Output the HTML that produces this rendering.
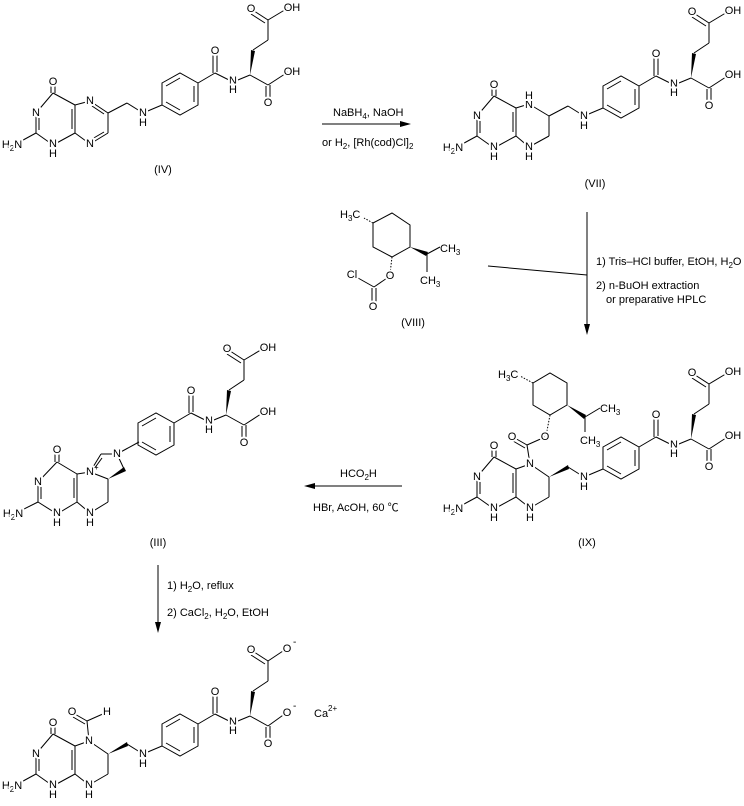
<!DOCTYPE html>
<html><head><meta charset="utf-8">
<style>
html,body{margin:0;padding:0;background:#fff;}
svg{display:block;}
text{font-family:"Liberation Sans","Noto Sans CJK SC",sans-serif;font-size:11px;fill:#000;}
.a{text-anchor:middle;dominant-baseline:central;paint-order:stroke;stroke:#fff;stroke-width:4px;stroke-linejoin:round;}
.s{font-size:8px;}
line,polyline,polygon.r{stroke:#000;stroke-width:1;fill:none;}
.w{fill:#000;stroke:none;}
</style></head><body>
<svg width="744" height="806" viewBox="0 0 744 806" xmlns="http://www.w3.org/2000/svg">

<!-- ========== (IV) ========== -->
<g>
<line x1="51" y1="82" x2="51" y2="93"/><line x1="55" y1="82" x2="55" y2="93"/>
<line x1="53" y1="93" x2="36" y2="113"/>
<line x1="36" y1="113" x2="36" y2="133"/><line x1="39" y1="116" x2="39" y2="130"/>
<line x1="36" y1="133" x2="53" y2="145"/><line x1="36" y1="133" x2="14" y2="145"/>
<line x1="53" y1="145" x2="75" y2="133"/>
<line x1="75" y1="133" x2="75" y2="105"/><line x1="72" y1="109" x2="72" y2="129"/>
<line x1="75" y1="105" x2="53" y2="93"/>
<line x1="75" y1="105" x2="90" y2="101"/><line x1="90" y1="101" x2="108" y2="113"/><line x1="92" y1="106" x2="104" y2="114"/>
<line x1="108" y1="113" x2="108" y2="133"/>
<line x1="108" y1="133" x2="90" y2="144"/><line x1="104" y1="132" x2="92" y2="139"/>
<line x1="90" y1="144" x2="75" y2="133"/>
<line x1="108" y1="113" x2="127" y2="103"/><line x1="127" y1="103" x2="143" y2="113"/><line x1="143" y1="113" x2="162" y2="105"/>
<text class="a" x="53" y="82">O</text><text class="a" x="36" y="113">N</text>
<text class="a" x="53" y="144">N</text><text class="a" x="53" y="154">H</text>
<text class="a" x="12" y="145">H<tspan class="s" dy="3">2</tspan><tspan dy="-3">N</tspan></text>
<text class="a" x="90" y="101">N</text><text class="a" x="90" y="144">N</text>
<text class="a" x="143" y="113">N</text><text class="a" x="143" y="123">H</text>
</g>
<text class="a" x="163" y="170">(IV)</text>

<g>
<polygon class="r" points="162,83 180,73 198,83 198,105 180,115 162,105"/>
<line x1="166" y1="86" x2="180" y2="78"/><line x1="194" y1="86" x2="194" y2="102"/><line x1="180" y1="110" x2="166" y2="102"/>
<line x1="198" y1="83" x2="215" y2="73"/>
<line x1="213" y1="52" x2="213" y2="73"/><line x1="217" y1="52" x2="217" y2="72"/>
<line x1="215" y1="73" x2="233" y2="82"/><line x1="233" y1="82" x2="250" y2="75"/>
<line x1="250" y1="75" x2="268" y2="85"/>
<line x1="266" y1="86" x2="266" y2="102"/><line x1="270" y1="85" x2="270" y2="102"/>
<line x1="268" y1="85" x2="288" y2="72"/>
<polygon class="w" points="250,75 251,50 255,51"/>
<line x1="253" y1="50" x2="268" y2="40"/><line x1="268" y1="40" x2="268" y2="20"/>
<line x1="268" y1="20" x2="251" y2="9"/><line x1="265" y1="23" x2="251" y2="14"/>
<line x1="268" y1="20" x2="288" y2="8"/>
<text class="a" x="215" y="51">O</text><text class="a" x="233" y="81">N</text><text class="a" x="233" y="90">H</text>
<text class="a" x="268" y="103">O</text><text class="a" x="292" y="72">OH</text>
<text class="a" x="251" y="9">O</text><text class="a" x="292" y="8">OH</text>
</g>

<!-- ========== arrow 1 ========== -->
<line x1="322" y1="124" x2="404" y2="124"/>
<polygon class="w" points="411,124 400,121 400,127"/>
<text x="333" y="116">NaBH<tspan class="s" dy="3">4</tspan><tspan dy="-3">, NaOH</tspan></text>
<text x="322" y="146">or H<tspan class="s" dy="3">2</tspan><tspan dy="-3">, [Rh(cod)Cl]</tspan><tspan class="s" dy="3">2</tspan></text>

<!-- ========== (VII) ========== -->
<g transform="translate(441,3)">
<line x1="51" y1="82" x2="51" y2="93"/><line x1="55" y1="82" x2="55" y2="93"/>
<line x1="53" y1="93" x2="36" y2="113"/>
<line x1="36" y1="113" x2="36" y2="133"/><line x1="39" y1="116" x2="39" y2="130"/>
<line x1="36" y1="133" x2="53" y2="145"/><line x1="36" y1="133" x2="14" y2="145"/>
<line x1="53" y1="145" x2="75" y2="133"/>
<line x1="75" y1="133" x2="75" y2="105"/><line x1="72" y1="109" x2="72" y2="129"/>
<line x1="75" y1="105" x2="53" y2="93"/>
<line x1="75" y1="105" x2="88" y2="101"/><line x1="88" y1="101" x2="108" y2="113"/>
<line x1="108" y1="113" x2="108" y2="133"/><line x1="108" y1="133" x2="88" y2="144"/>
<line x1="88" y1="144" x2="75" y2="133"/>
<line x1="108" y1="113" x2="127" y2="103"/><line x1="127" y1="103" x2="143" y2="113"/><line x1="143" y1="113" x2="162" y2="105"/>
<text class="a" x="53" y="82">O</text><text class="a" x="36" y="113">N</text>
<text class="a" x="53" y="144">N</text><text class="a" x="53" y="154">H</text>
<text class="a" x="12" y="145">H<tspan class="s" dy="3">2</tspan><tspan dy="-3">N</tspan></text>
<text class="a" x="88" y="102">N</text><text class="a" x="88" y="93">H</text>
<text class="a" x="88" y="144">N</text><text class="a" x="88" y="154">H</text>
<text class="a" x="143" y="113">N</text><text class="a" x="143" y="123">H</text>
<polygon class="r" points="162,83 180,73 198,83 198,105 180,115 162,105"/>
<line x1="166" y1="86" x2="180" y2="78"/><line x1="194" y1="86" x2="194" y2="102"/><line x1="180" y1="110" x2="166" y2="102"/>
<line x1="198" y1="83" x2="215" y2="73"/>
<line x1="213" y1="52" x2="213" y2="73"/><line x1="217" y1="52" x2="217" y2="72"/>
<line x1="215" y1="73" x2="233" y2="82"/><line x1="233" y1="82" x2="250" y2="75"/>
<line x1="250" y1="75" x2="268" y2="85"/>
<line x1="266" y1="86" x2="266" y2="102"/><line x1="270" y1="85" x2="270" y2="102"/>
<line x1="268" y1="85" x2="288" y2="72"/>
<polygon class="w" points="250,75 251,50 255,51"/>
<line x1="253" y1="50" x2="268" y2="40"/><line x1="268" y1="40" x2="268" y2="20"/>
<line x1="268" y1="20" x2="251" y2="9"/><line x1="265" y1="23" x2="251" y2="14"/>
<line x1="268" y1="20" x2="288" y2="8"/>
<text class="a" x="215" y="51">O</text><text class="a" x="233" y="81">N</text><text class="a" x="233" y="90">H</text>
<text class="a" x="268" y="103">O</text><text class="a" x="292" y="72">OH</text>
<text class="a" x="251" y="9">O</text><text class="a" x="292" y="8">OH</text>
</g>
<text class="a" x="595" y="184">(VII)</text>

<!-- ========== (VIII) ========== -->
<polygon class="r" points="373,223 392,213 410,225 410,247 392,257 373,247"/>
<line x1="373" y1="223" x2="364" y2="218" stroke-dasharray="1.5,1.5"/>
<text x="340" y="218">H<tspan class="s" dy="3">3</tspan><tspan dy="-3">C</tspan></text>
<polygon class="w" points="410,247 426,256 428,252"/>
<line x1="427" y1="254" x2="440" y2="247"/><line x1="427" y1="254" x2="427" y2="272"/>
<text x="440" y="252">CH<tspan class="s" dy="3">3</tspan></text>
<text x="420" y="284">CH<tspan class="s" dy="3">3</tspan></text>
<line x1="392" y1="257" x2="390" y2="274" stroke-dasharray="1.5,1.5" stroke-width="2"/>
<line x1="390" y1="276" x2="374" y2="287"/><line x1="374" y1="287" x2="358" y2="278"/>
<line x1="372" y1="288" x2="372" y2="303"/><line x1="376" y1="288" x2="376" y2="303"/>
<text class="a" x="390" y="276">O</text><text class="a" x="352" y="275">Cl</text><text class="a" x="373" y="307">O</text>
<text class="a" x="413" y="323">(VIII)</text>

<!-- ========== arrow 2 ========== -->
<line x1="587" y1="212" x2="587" y2="330"/>
<polygon class="w" points="587,335 584,324 590,324"/>
<line x1="488" y1="266" x2="587" y2="275"/>
<text x="596" y="265">1) Tris–HCl buffer, EtOH, H<tspan class="s" dy="3">2</tspan><tspan dy="-3">O</tspan></text>
<text x="596" y="289">2) n-BuOH extraction</text>
<text x="606" y="303">or preparative HPLC</text>

<!-- ========== (IX) ========== -->
<polygon class="r" points="533,383 550,373 567,383 567,405 550,415 533,405"/>
<line x1="533" y1="383" x2="520" y2="376" stroke-dasharray="1.5,1.5"/>
<text x="498" y="378">H<tspan class="s" dy="3">3</tspan><tspan dy="-3">C</tspan></text>
<polygon class="w" points="567,405 584,419 586,415"/>
<line x1="585" y1="417" x2="600" y2="408"/><line x1="585" y1="417" x2="585" y2="432"/>
<text x="600" y="412">CH<tspan class="s" dy="3">3</tspan></text>
<text x="580" y="444">CH<tspan class="s" dy="3">3</tspan></text>
<line x1="550" y1="415" x2="546" y2="436" stroke-dasharray="1.5,1.5" stroke-width="2"/>
<g transform="translate(441,364)">
<line x1="104" y1="73" x2="86" y2="81"/><line x1="86" y1="81" x2="89" y2="100"/>
<line x1="86" y1="81" x2="72" y2="73"/><line x1="84" y1="84" x2="72" y2="77"/>
<text class="a" x="104" y="73">O</text><text class="a" x="71" y="73">O</text>
<line x1="51" y1="82" x2="51" y2="93"/><line x1="55" y1="82" x2="55" y2="93"/>
<line x1="53" y1="93" x2="36" y2="113"/>
<line x1="36" y1="113" x2="36" y2="133"/><line x1="39" y1="116" x2="39" y2="130"/>
<line x1="36" y1="133" x2="53" y2="145"/><line x1="36" y1="133" x2="14" y2="145"/>
<line x1="53" y1="145" x2="75" y2="133"/>
<line x1="75" y1="133" x2="75" y2="105"/><line x1="72" y1="109" x2="72" y2="129"/>
<line x1="75" y1="105" x2="53" y2="93"/>
<line x1="75" y1="105" x2="89" y2="100"/><line x1="89" y1="100" x2="108" y2="113"/>
<line x1="108" y1="113" x2="108" y2="133"/><line x1="108" y1="133" x2="89" y2="144"/>
<line x1="89" y1="144" x2="75" y2="133"/>
<polygon class="w" points="108,113 127,101 128,105"/>
<line x1="127" y1="103" x2="143" y2="113"/><line x1="143" y1="113" x2="162" y2="105"/>
<text class="a" x="53" y="82">O</text><text class="a" x="36" y="113">N</text>
<text class="a" x="53" y="144">N</text><text class="a" x="53" y="154">H</text>
<text class="a" x="12" y="145">H<tspan class="s" dy="3">2</tspan><tspan dy="-3">N</tspan></text>
<text class="a" x="89" y="100">N</text>
<text class="a" x="89" y="144">N</text><text class="a" x="89" y="154">H</text>
<text class="a" x="143" y="113">N</text><text class="a" x="143" y="123">H</text>
<polygon class="r" points="162,83 180,73 198,83 198,105 180,115 162,105"/>
<line x1="166" y1="86" x2="180" y2="78"/><line x1="194" y1="86" x2="194" y2="102"/><line x1="180" y1="110" x2="166" y2="102"/>
<line x1="198" y1="83" x2="215" y2="73"/>
<line x1="213" y1="52" x2="213" y2="73"/><line x1="217" y1="52" x2="217" y2="72"/>
<line x1="215" y1="73" x2="233" y2="82"/><line x1="233" y1="82" x2="250" y2="75"/>
<line x1="250" y1="75" x2="268" y2="85"/>
<line x1="266" y1="86" x2="266" y2="102"/><line x1="270" y1="85" x2="270" y2="102"/>
<line x1="268" y1="85" x2="288" y2="72"/>
<polygon class="w" points="250,75 251,50 255,51"/>
<line x1="253" y1="50" x2="268" y2="40"/><line x1="268" y1="40" x2="268" y2="20"/>
<line x1="268" y1="20" x2="251" y2="9"/><line x1="265" y1="23" x2="251" y2="14"/>
<line x1="268" y1="20" x2="288" y2="8"/>
<text class="a" x="215" y="51">O</text><text class="a" x="233" y="81">N</text><text class="a" x="233" y="90">H</text>
<text class="a" x="268" y="103">O</text><text class="a" x="292" y="72">OH</text>
<text class="a" x="251" y="9">O</text><text class="a" x="292" y="8">OH</text>
</g>
<text class="a" x="587" y="543">(IX)</text>

<!-- ========== arrow 3 ========== -->
<line x1="402" y1="486" x2="310" y2="486"/>
<polygon class="w" points="304,486 315,483 315,489"/>
<text x="340" y="477">HCO<tspan class="s" dy="3">2</tspan><tspan dy="-3">H</tspan></text>
<text x="313" y="511">HBr, AcOH, 60 ℃</text>

<!-- ========== (III) ========== -->
<g transform="translate(2,369)">
<line x1="53" y1="82" x2="53" y2="93"/><line x1="57" y1="82" x2="57" y2="93"/>
<line x1="55" y1="93" x2="36" y2="113"/>
<line x1="36" y1="113" x2="36" y2="133"/><line x1="39" y1="116" x2="39" y2="130"/>
<line x1="36" y1="133" x2="55" y2="145"/><line x1="36" y1="133" x2="12" y2="145"/>
<line x1="55" y1="145" x2="75" y2="133"/>
<line x1="75" y1="133" x2="75" y2="105"/><line x1="72" y1="109" x2="72" y2="129"/>
<line x1="75" y1="105" x2="55" y2="93"/>
<line x1="75" y1="105" x2="88" y2="103"/><line x1="88" y1="103" x2="106" y2="110"/>
<line x1="106" y1="110" x2="106" y2="133"/><line x1="106" y1="133" x2="88" y2="144"/>
<line x1="88" y1="144" x2="75" y2="133"/>
<line x1="88" y1="103" x2="99" y2="85"/><line x1="92" y1="100" x2="100" y2="89"/>
<line x1="99" y1="85" x2="115" y2="85"/><line x1="115" y1="85" x2="122" y2="100"/>
<polygon class="w" points="106,110 122,98 124,102"/>
<line x1="115" y1="85" x2="137" y2="73"/>
<text class="a" x="55" y="81">O</text><text class="a" x="36" y="113">N</text>
<text class="a" x="55" y="144">N</text><text class="a" x="55" y="154">H</text>
<text class="a" x="11" y="145">H<tspan class="s" dy="3">2</tspan><tspan dy="-3">N</tspan></text>
<text class="a" x="88" y="103">N</text><text x="92" y="101" class="s">+</text>
<text class="a" x="88" y="144">N</text><text class="a" x="88" y="154">H</text>
<text class="a" x="115" y="85">N</text>
</g>
<g transform="translate(-24,340)">
<polygon class="r" points="162,83 180,73 198,83 198,105 180,115 162,105"/>
<line x1="166" y1="86" x2="180" y2="78"/><line x1="194" y1="86" x2="194" y2="102"/><line x1="180" y1="110" x2="166" y2="102"/>
<line x1="198" y1="83" x2="215" y2="73"/>
<line x1="213" y1="52" x2="213" y2="73"/><line x1="217" y1="52" x2="217" y2="72"/>
<line x1="215" y1="73" x2="233" y2="82"/><line x1="233" y1="82" x2="250" y2="75"/>
<line x1="250" y1="75" x2="268" y2="85"/>
<line x1="266" y1="86" x2="266" y2="102"/><line x1="270" y1="85" x2="270" y2="102"/>
<line x1="268" y1="85" x2="288" y2="72"/>
<polygon class="w" points="250,75 251,50 255,51"/>
<line x1="253" y1="50" x2="268" y2="40"/><line x1="268" y1="40" x2="268" y2="20"/>
<line x1="268" y1="20" x2="251" y2="9"/><line x1="265" y1="23" x2="251" y2="14"/>
<line x1="268" y1="20" x2="288" y2="8"/>
<text class="a" x="215" y="51">O</text><text class="a" x="233" y="81">N</text><text class="a" x="233" y="90">H</text>
<text class="a" x="268" y="103">O</text><text class="a" x="292" y="72">OH</text>
<text class="a" x="251" y="9">O</text><text class="a" x="292" y="8">OH</text>
</g>
<text class="a" x="158" y="543">(III)</text>

<!-- ========== arrow 4 ========== -->
<line x1="158" y1="565" x2="158" y2="627"/>
<polygon class="w" points="158,633 155,622 161,622"/>
<text x="167" y="589">1) H<tspan class="s" dy="3">2</tspan><tspan dy="-3">O, reflux</tspan></text>
<text x="167" y="616">2) CaCl<tspan class="s" dy="3">2</tspan><tspan dy="-3">, H</tspan><tspan class="s" dy="3">2</tspan><tspan dy="-3">O, EtOH</tspan></text>

<!-- ========== product ========== -->
<g transform="translate(0,641)">
<line x1="89" y1="100" x2="87" y2="80"/>
<line x1="87" y1="80" x2="73" y2="72"/><line x1="85" y1="83" x2="73" y2="76"/>
<line x1="87" y1="80" x2="105" y2="72"/>
<text class="a" x="72" y="71">O</text><text class="a" x="107" y="71">H</text>
<line x1="51" y1="82" x2="51" y2="93"/><line x1="55" y1="82" x2="55" y2="93"/>
<line x1="53" y1="93" x2="36" y2="113"/>
<line x1="36" y1="113" x2="36" y2="133"/><line x1="39" y1="116" x2="39" y2="130"/>
<line x1="36" y1="133" x2="53" y2="145"/><line x1="36" y1="133" x2="14" y2="145"/>
<line x1="53" y1="145" x2="75" y2="133"/>
<line x1="75" y1="133" x2="75" y2="105"/><line x1="72" y1="109" x2="72" y2="129"/>
<line x1="75" y1="105" x2="53" y2="93"/>
<line x1="75" y1="105" x2="89" y2="100"/><line x1="89" y1="100" x2="108" y2="113"/>
<line x1="108" y1="113" x2="108" y2="133"/><line x1="108" y1="133" x2="89" y2="144"/>
<line x1="89" y1="144" x2="75" y2="133"/>
<polygon class="w" points="108,113 127,101 128,105"/>
<line x1="127" y1="103" x2="143" y2="113"/><line x1="143" y1="113" x2="162" y2="105"/>
<text class="a" x="53" y="82">O</text><text class="a" x="36" y="113">N</text>
<text class="a" x="53" y="144">N</text><text class="a" x="53" y="154">H</text>
<text class="a" x="12" y="145">H<tspan class="s" dy="3">2</tspan><tspan dy="-3">N</tspan></text>
<text class="a" x="89" y="100">N</text>
<text class="a" x="89" y="144">N</text><text class="a" x="89" y="154">H</text>
<text class="a" x="143" y="113">N</text><text class="a" x="143" y="123">H</text>
<polygon class="r" points="162,83 180,73 198,83 198,105 180,115 162,105"/>
<line x1="166" y1="86" x2="180" y2="78"/><line x1="194" y1="86" x2="194" y2="102"/><line x1="180" y1="110" x2="166" y2="102"/>
<line x1="198" y1="83" x2="215" y2="73"/>
<line x1="213" y1="52" x2="213" y2="73"/><line x1="217" y1="52" x2="217" y2="72"/>
<line x1="215" y1="73" x2="233" y2="82"/><line x1="233" y1="82" x2="250" y2="75"/>
<line x1="250" y1="75" x2="268" y2="85"/>
<line x1="266" y1="86" x2="266" y2="102"/><line x1="270" y1="85" x2="270" y2="102"/>
<line x1="268" y1="85" x2="286" y2="72"/>
<polygon class="w" points="250,75 251,50 255,51"/>
<line x1="253" y1="50" x2="268" y2="40"/><line x1="268" y1="40" x2="268" y2="20"/>
<line x1="268" y1="20" x2="251" y2="9"/><line x1="265" y1="23" x2="251" y2="14"/>
<line x1="268" y1="20" x2="286" y2="8"/>
<text class="a" x="215" y="51">O</text><text class="a" x="233" y="81">N</text><text class="a" x="233" y="90">H</text>
<text class="a" x="268" y="103">O</text><text class="a" x="287" y="72">O</text><text x="293" y="68" style="font-size:10px">-</text>
<text class="a" x="251" y="9">O</text><text class="a" x="287" y="8">O</text><text x="293" y="4" style="font-size:10px">-</text>
<text x="314" y="76">Ca</text><text x="328" y="70" class="s">2+</text>
</g>

</svg>
</body></html>
